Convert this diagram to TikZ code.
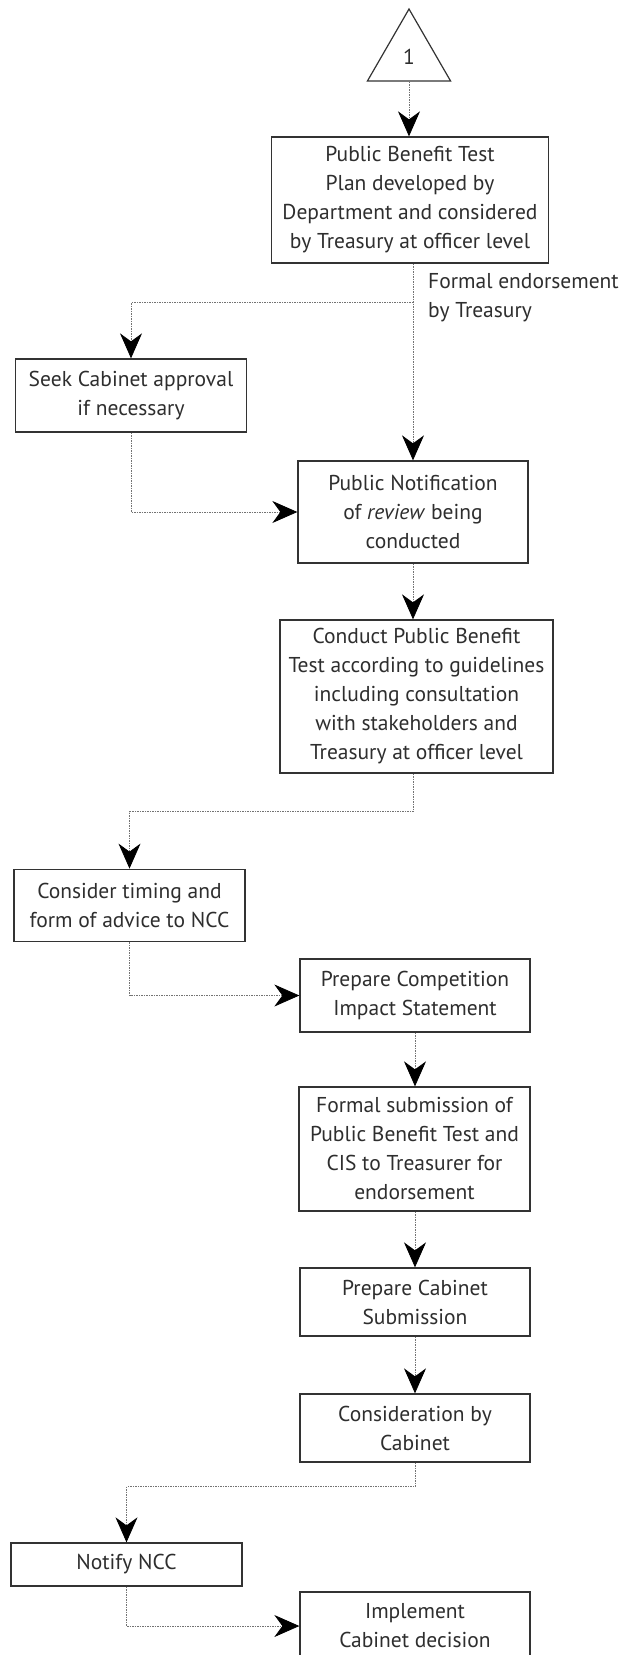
\documentclass[tikz,border=0pt]{standalone}
\usepackage{fontspec}
\setmainfont{PT Sans}
\usetikzlibrary{arrows.meta,shapes.geometric,calc}
\begin{document}
\begin{tikzpicture}[x=1pt,y=-1pt,
  txt/.style={text=black!82, font=\fontsize{21.5}{29}\selectfont},
  box/.style={txt, draw=black!80, line width=1.3pt, rectangle, align=center, inner sep=2pt},
  conn/.style={draw=black!55, line width=0.8pt, dash pattern=on 1.5pt off 1pt},
  arr/.style={conn, -{Stealth[length=25pt,width=22pt,inset=8pt,black]}}
]
\useasboundingbox (0,0) rectangle (619,1655);
\fill[white] (0,0) rectangle (619,1655);
\clip (0,0) rectangle (619,1655);

\node[regular polygon, regular polygon sides=3, draw=black!80, line width=1.2pt,
      minimum size=96pt, inner sep=0pt, txt] (tri) at (409,57) {1};

\node[box, minimum width=277pt, minimum height=126pt] (b1) at (410,200)
  {Public Benefit Test\\Plan developed by\\Department and considered\\by Treasury at officer level};
\node[box, minimum width=231pt, minimum height=73pt] (seek) at (131,395.5)
  {Seek Cabinet approval\\if necessary};
\node[box, minimum width=230pt, minimum height=102pt] (notif) at (413,512)
  {Public Notification\\of \textit{review} being\\conducted};
\node[box, minimum width=273pt, minimum height=153pt] (cond) at (416.5,696.5)
  {Conduct Public Benefit\\Test according to guidelines\\including consultation\\with stakeholders and\\Treasury at officer level};
\node[box, minimum width=231pt, minimum height=72.5pt] (consider) at (129.5,905.5)
  {Consider timing and\\form of advice to NCC};
\node[box, minimum width=230pt, minimum height=73pt] (cis) at (415,995.5)
  {Prepare Competition\\Impact Statement};
\node[box, minimum width=231pt, minimum height=124pt] (formal) at (414.5,1149)
  {Formal submission of\\Public Benefit Test and\\CIS to Treasurer for\\endorsement};
\node[box, minimum width=230pt, minimum height=68pt] (prepcab) at (415,1302)
  {Prepare Cabinet\\Submission};
\node[box, minimum width=230pt, minimum height=68pt] (consid) at (415,1428)
  {Consideration by\\Cabinet};
\node[box, minimum width=231pt, minimum height=43pt] (notify) at (126.5,1564.5)
  {Notify NCC};
\node[box, minimum width=230pt, minimum height=68pt] (impl) at (415,1626)
  {Implement\\Cabinet decision};

\node[txt, anchor=west, align=left, inner sep=0pt] (lab) at (428,298)
  {Formal endorsement\\by Treasury};

\draw[arr] (tri.south) -- (tri.south |- b1.north);
\coordinate (top) at (b1.south -| notif.north);
\draw[arr] (top) -- (notif.north);
\coordinate (br) at ($(top)+(0,39)$);
\draw[arr] (br) -| (seek.north);
\draw[arr] (seek.south) |- (notif.west);
\draw[arr] (notif.south) -- (notif.south |- cond.north);
\draw[arr] (notif.south |- cond.south) -- ++(0,38) -| (consider.north);
\draw[arr] (consider.south) |- (cis.west);
\draw[arr] (cis.south) -- (cis.south |- formal.north);
\draw[arr] (cis.south |- formal.south) -- (cis.south |- prepcab.north);
\draw[arr] (prepcab.south) -- (consid.north);
\draw[arr] (consid.south) -- ++(0,24) -| (notify.north);
\draw[arr] (notify.south) |- (impl.west);
\end{tikzpicture}
\end{document}
